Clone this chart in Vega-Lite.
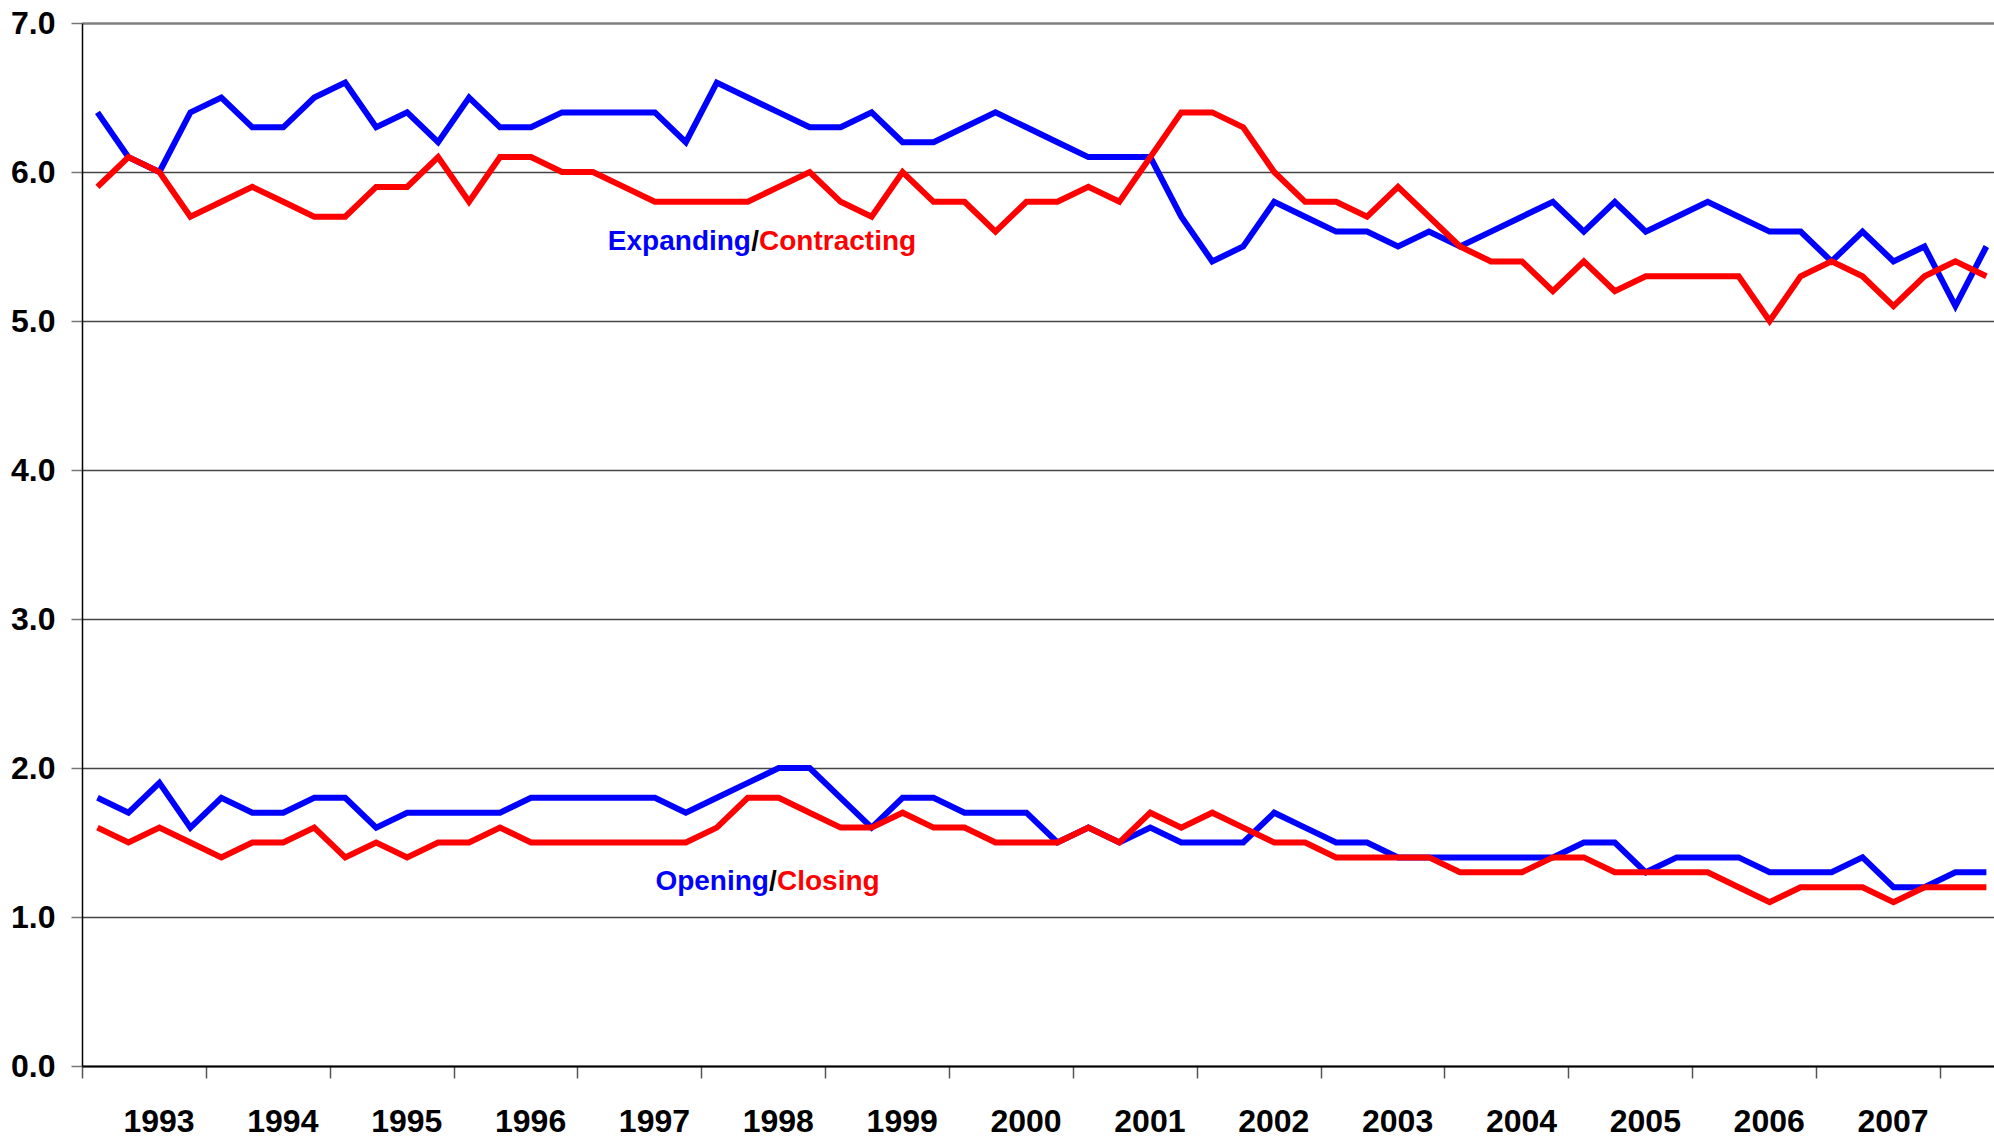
{
  "$schema": "https://vega.github.io/schema/vega-lite/v6.json",
  "width": 1912,
  "height": 1043,
  "autosize": {"type": "none"},
  "padding": {"left": 82, "top": 23, "right": 0, "bottom": 72},
  "background": "white",
  "config": {"view": {"stroke": null}, "font": "Liberation Sans"},
  "data": {"values": [
    {"quarter":"1993Q1","t":1993.125,"expanding":6.4,"contracting":5.9,"opening":1.8,"closing":1.6},
    {"quarter":"1993Q2","t":1993.375,"expanding":6.1,"contracting":6.1,"opening":1.7,"closing":1.5},
    {"quarter":"1993Q3","t":1993.625,"expanding":6.0,"contracting":6.0,"opening":1.9,"closing":1.6},
    {"quarter":"1993Q4","t":1993.875,"expanding":6.4,"contracting":5.7,"opening":1.6,"closing":1.5},
    {"quarter":"1994Q1","t":1994.125,"expanding":6.5,"contracting":5.8,"opening":1.8,"closing":1.4},
    {"quarter":"1994Q2","t":1994.375,"expanding":6.3,"contracting":5.9,"opening":1.7,"closing":1.5},
    {"quarter":"1994Q3","t":1994.625,"expanding":6.3,"contracting":5.8,"opening":1.7,"closing":1.5},
    {"quarter":"1994Q4","t":1994.875,"expanding":6.5,"contracting":5.7,"opening":1.8,"closing":1.6},
    {"quarter":"1995Q1","t":1995.125,"expanding":6.6,"contracting":5.7,"opening":1.8,"closing":1.4},
    {"quarter":"1995Q2","t":1995.375,"expanding":6.3,"contracting":5.9,"opening":1.6,"closing":1.5},
    {"quarter":"1995Q3","t":1995.625,"expanding":6.4,"contracting":5.9,"opening":1.7,"closing":1.4},
    {"quarter":"1995Q4","t":1995.875,"expanding":6.2,"contracting":6.1,"opening":1.7,"closing":1.5},
    {"quarter":"1996Q1","t":1996.125,"expanding":6.5,"contracting":5.8,"opening":1.7,"closing":1.5},
    {"quarter":"1996Q2","t":1996.375,"expanding":6.3,"contracting":6.1,"opening":1.7,"closing":1.6},
    {"quarter":"1996Q3","t":1996.625,"expanding":6.3,"contracting":6.1,"opening":1.8,"closing":1.5},
    {"quarter":"1996Q4","t":1996.875,"expanding":6.4,"contracting":6.0,"opening":1.8,"closing":1.5},
    {"quarter":"1997Q1","t":1997.125,"expanding":6.4,"contracting":6.0,"opening":1.8,"closing":1.5},
    {"quarter":"1997Q2","t":1997.375,"expanding":6.4,"contracting":5.9,"opening":1.8,"closing":1.5},
    {"quarter":"1997Q3","t":1997.625,"expanding":6.4,"contracting":5.8,"opening":1.8,"closing":1.5},
    {"quarter":"1997Q4","t":1997.875,"expanding":6.2,"contracting":5.8,"opening":1.7,"closing":1.5},
    {"quarter":"1998Q1","t":1998.125,"expanding":6.6,"contracting":5.8,"opening":1.8,"closing":1.6},
    {"quarter":"1998Q2","t":1998.375,"expanding":6.5,"contracting":5.8,"opening":1.9,"closing":1.8},
    {"quarter":"1998Q3","t":1998.625,"expanding":6.4,"contracting":5.9,"opening":2.0,"closing":1.8},
    {"quarter":"1998Q4","t":1998.875,"expanding":6.3,"contracting":6.0,"opening":2.0,"closing":1.7},
    {"quarter":"1999Q1","t":1999.125,"expanding":6.3,"contracting":5.8,"opening":1.8,"closing":1.6},
    {"quarter":"1999Q2","t":1999.375,"expanding":6.4,"contracting":5.7,"opening":1.6,"closing":1.6},
    {"quarter":"1999Q3","t":1999.625,"expanding":6.2,"contracting":6.0,"opening":1.8,"closing":1.7},
    {"quarter":"1999Q4","t":1999.875,"expanding":6.2,"contracting":5.8,"opening":1.8,"closing":1.6},
    {"quarter":"2000Q1","t":2000.125,"expanding":6.3,"contracting":5.8,"opening":1.7,"closing":1.6},
    {"quarter":"2000Q2","t":2000.375,"expanding":6.4,"contracting":5.6,"opening":1.7,"closing":1.5},
    {"quarter":"2000Q3","t":2000.625,"expanding":6.3,"contracting":5.8,"opening":1.7,"closing":1.5},
    {"quarter":"2000Q4","t":2000.875,"expanding":6.2,"contracting":5.8,"opening":1.5,"closing":1.5},
    {"quarter":"2001Q1","t":2001.125,"expanding":6.1,"contracting":5.9,"opening":1.6,"closing":1.6},
    {"quarter":"2001Q2","t":2001.375,"expanding":6.1,"contracting":5.8,"opening":1.5,"closing":1.5},
    {"quarter":"2001Q3","t":2001.625,"expanding":6.1,"contracting":6.1,"opening":1.6,"closing":1.7},
    {"quarter":"2001Q4","t":2001.875,"expanding":5.7,"contracting":6.4,"opening":1.5,"closing":1.6},
    {"quarter":"2002Q1","t":2002.125,"expanding":5.4,"contracting":6.4,"opening":1.5,"closing":1.7},
    {"quarter":"2002Q2","t":2002.375,"expanding":5.5,"contracting":6.3,"opening":1.5,"closing":1.6},
    {"quarter":"2002Q3","t":2002.625,"expanding":5.8,"contracting":6.0,"opening":1.7,"closing":1.5},
    {"quarter":"2002Q4","t":2002.875,"expanding":5.7,"contracting":5.8,"opening":1.6,"closing":1.5},
    {"quarter":"2003Q1","t":2003.125,"expanding":5.6,"contracting":5.8,"opening":1.5,"closing":1.4},
    {"quarter":"2003Q2","t":2003.375,"expanding":5.6,"contracting":5.7,"opening":1.5,"closing":1.4},
    {"quarter":"2003Q3","t":2003.625,"expanding":5.5,"contracting":5.9,"opening":1.4,"closing":1.4},
    {"quarter":"2003Q4","t":2003.875,"expanding":5.6,"contracting":5.7,"opening":1.4,"closing":1.4},
    {"quarter":"2004Q1","t":2004.125,"expanding":5.5,"contracting":5.5,"opening":1.4,"closing":1.3},
    {"quarter":"2004Q2","t":2004.375,"expanding":5.6,"contracting":5.4,"opening":1.4,"closing":1.3},
    {"quarter":"2004Q3","t":2004.625,"expanding":5.7,"contracting":5.4,"opening":1.4,"closing":1.3},
    {"quarter":"2004Q4","t":2004.875,"expanding":5.8,"contracting":5.2,"opening":1.4,"closing":1.4},
    {"quarter":"2005Q1","t":2005.125,"expanding":5.6,"contracting":5.4,"opening":1.5,"closing":1.4},
    {"quarter":"2005Q2","t":2005.375,"expanding":5.8,"contracting":5.2,"opening":1.5,"closing":1.3},
    {"quarter":"2005Q3","t":2005.625,"expanding":5.6,"contracting":5.3,"opening":1.3,"closing":1.3},
    {"quarter":"2005Q4","t":2005.875,"expanding":5.7,"contracting":5.3,"opening":1.4,"closing":1.3},
    {"quarter":"2006Q1","t":2006.125,"expanding":5.8,"contracting":5.3,"opening":1.4,"closing":1.3},
    {"quarter":"2006Q2","t":2006.375,"expanding":5.7,"contracting":5.3,"opening":1.4,"closing":1.2},
    {"quarter":"2006Q3","t":2006.625,"expanding":5.6,"contracting":5.0,"opening":1.3,"closing":1.1},
    {"quarter":"2006Q4","t":2006.875,"expanding":5.6,"contracting":5.3,"opening":1.3,"closing":1.2},
    {"quarter":"2007Q1","t":2007.125,"expanding":5.4,"contracting":5.4,"opening":1.3,"closing":1.2},
    {"quarter":"2007Q2","t":2007.375,"expanding":5.6,"contracting":5.3,"opening":1.4,"closing":1.2},
    {"quarter":"2007Q3","t":2007.625,"expanding":5.4,"contracting":5.1,"opening":1.2,"closing":1.1},
    {"quarter":"2007Q4","t":2007.875,"expanding":5.5,"contracting":5.3,"opening":1.2,"closing":1.2},
    {"quarter":"2008Q1","t":2008.125,"expanding":5.1,"contracting":5.4,"opening":1.3,"closing":1.2},
    {"quarter":"2008Q2","t":2008.375,"expanding":5.5,"contracting":5.3,"opening":1.3,"closing":1.2}
  ]},
  "encoding": {
    "x": {
      "field": "t", "type": "quantitative",
      "scale": {"domain": [1993, 2008.4365], "nice": false, "zero": false},
      "axis": {
        "title": null, "grid": false,
        "values": [1993,1994,1995,1996,1997,1998,1999,2000,2001,2002,2003,2004,2005,2006,2007,2008],
        "format": "d",
        "labelExpr": "datum.value >= 2008 ? '' : datum.label",
        "labelOffset": 76.5,
        "labelFontSize": 32, "labelFontWeight": "bold", "labelColor": "#000000",
        "labelPadding": 28, "labelOverlap": false, "labelFlush": false, "labelBound": false,
        "tickSize": 12, "tickColor": "#555555", "tickWidth": 1.5,
        "domainColor": "#000000", "domainWidth": 2
      }
    },
    "y": {
      "field": "value", "type": "quantitative",
      "scale": {"domain": [0, 7], "nice": false},
      "axis": {
        "title": null,
        "values": [0,1,2,3,4,5,6,7],
        "format": ".1f",
        "labelFontSize": 32, "labelFontWeight": "bold", "labelColor": "#000000",
        "labelPadding": 16,
        "tickSize": 11, "tickColor": "#777777", "tickWidth": 1.5,
        "domainColor": "#000000", "domainWidth": 1.5,
        "grid": true,
        "gridColor": {"condition": {"test": "datum.value === 7", "value": "#808080"}, "value": "#444444"},
        "gridWidth": {"condition": {"test": "datum.value === 7", "value": 2.5}, "value": 1.3}
      }
    }
  },
  "layer": [
    {
      "transform": [{"fold": ["expanding", "opening", "contracting", "closing"], "as": ["series", "value"]}],
      "mark": {"type": "line", "strokeWidth": 6},
      "encoding": {
        "color": {
          "field": "series", "type": "nominal",
          "scale": {"domain": ["expanding", "opening", "contracting", "closing"], "range": ["#0000FF", "#0000FF", "#FF0000", "#FF0000"]},
          "legend": null
        }
      }
    },
    {
      "data": {"values": [{"t": 1998.401, "value": 5.477, "label": "Expanding"}, {"t": 1998.546, "value": 1.181, "label": "Opening"}]},
      "mark": {"type": "text", "align": "right", "baseline": "alphabetic", "fontSize": 28, "fontWeight": "bold", "color": "#0000FF"},
      "encoding": {"text": {"field": "label"}}
    },
    {
      "data": {"values": [{"t": 1998.434, "value": 5.477, "label": "/"}, {"t": 1998.577, "value": 1.181, "label": "/"}]},
      "mark": {"type": "text", "align": "center", "baseline": "alphabetic", "fontSize": 28, "fontWeight": "bold", "color": "#000000"},
      "encoding": {"text": {"field": "label"}}
    },
    {
      "data": {"values": [{"t": 1998.466, "value": 5.477, "label": "Contracting"}, {"t": 1998.611, "value": 1.181, "label": "Closing"}]},
      "mark": {"type": "text", "align": "left", "baseline": "alphabetic", "fontSize": 28, "fontWeight": "bold", "color": "#FF0000"},
      "encoding": {"text": {"field": "label"}}
    }
  ]
}
